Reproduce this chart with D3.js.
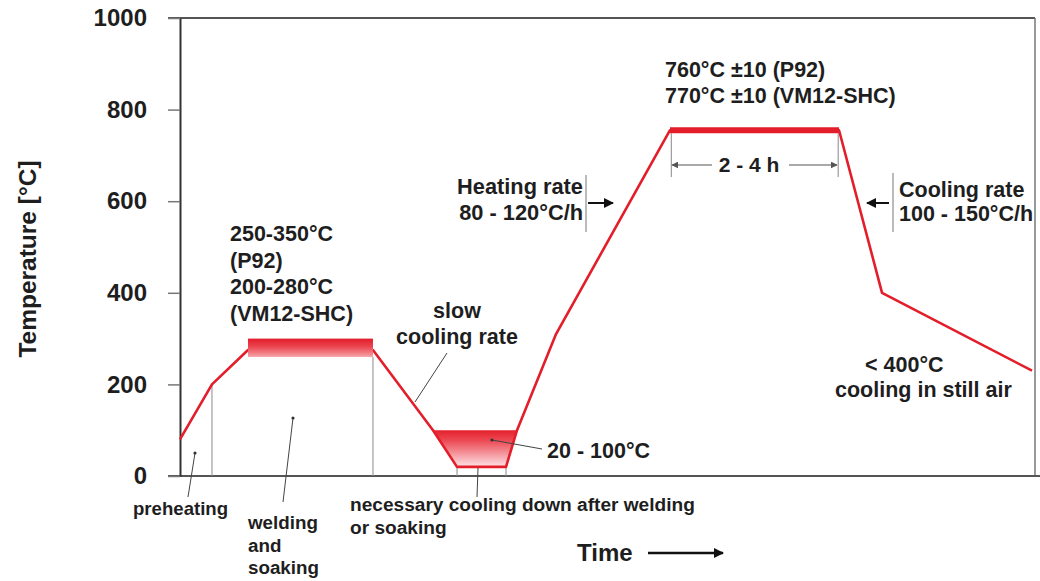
<!DOCTYPE html>
<html>
<head>
<meta charset="utf-8">
<script src="https://cdn.jsdelivr.net/npm/d3@7"></script>
<style>
  html, body { margin: 0; padding: 0; background: #fff; }
  svg text { font-family: "Liberation Sans", Arial, Helvetica, sans-serif; font-weight: bold; fill: #1e1e1e; }
</style>
</head>
<body>
<script>
// Post-weld heat treatment cycle: temperature against (relative) time
const profileTime = [0, 3.74, 7.95, 22.57, 29.59, 32.40, 38.13, 39.42, 43.98, 57.31, 77.08, 82.11, 99.65];
const profileTemp = [80, 200, 275, 275, 100, 20, 20, 100, 310, 755, 755, 400, 230];

// welding / soaking window
const weldBandTime = [7.95, 22.57];
const weldBandTemp = [260, 300];

// cooling-down window after welding (trapezoid corners)
const coolTime = [29.59, 39.42, 38.13, 32.40];
const coolTemp = [100, 100, 20, 20];

// tempering hold
const holdTime = [57.31, 77.08];
const holdTemp = 755;

const tempTicks = [0, 200, 400, 600, 800, 1000];

const W = 1040, H = 581;
const x = d3.scaleLinear().domain([0, 100]).range([180, 1035]);
const y = d3.scaleLinear().domain([0, 1000]).range([476, 18]);

const RED = "#e31e2a";
const GRID = "#8a8a8a";
const INK = "#1e1e1e";

const svg = d3.select("body").append("svg").attr("width", W).attr("height", H);
const defs = svg.append("defs");

const gBand = defs.append("linearGradient").attr("id", "bandGrad").attr("x1", 0).attr("x2", 0).attr("y1", 0).attr("y2", 1);
gBand.append("stop").attr("offset", "0%").attr("stop-color", "#e21c2a");
gBand.append("stop").attr("offset", "45%").attr("stop-color", "#eb4650");
gBand.append("stop").attr("offset", "100%").attr("stop-color", "#f7a3a9");

const gCool = defs.append("linearGradient").attr("id", "coolGrad").attr("x1", 0).attr("x2", 0).attr("y1", 0).attr("y2", 1);
gCool.append("stop").attr("offset", "0%").attr("stop-color", "#e4202c");
gCool.append("stop").attr("offset", "30%").attr("stop-color", "#ec4d57");
gCool.append("stop").attr("offset", "100%").attr("stop-color", "#fde3e6");

function marker(id, color, size) {
  defs.append("marker").attr("id", id)
    .attr("viewBox", "0 0 10 10").attr("refX", 9).attr("refY", 5)
    .attr("markerWidth", size).attr("markerHeight", size)
    .attr("markerUnits", "userSpaceOnUse")
    .attr("orient", "auto-start-reverse")
    .append("path").attr("d", "M0,0 L10,5 L0,10 Z").attr("fill", color);
}
marker("headBlack", "#111", 10);
marker("headGray", "#555", 7);

// frame
svg.append("line").attr("x1", 168).attr("x2", x(100)).attr("y1", y(1000)).attr("y2", y(1000))
  .attr("stroke", "#555").attr("stroke-width", 2);
svg.append("line").attr("x1", x(100)).attr("x2", x(100)).attr("y1", y(1000)).attr("y2", y(0))
  .attr("stroke", "#777").attr("stroke-width", 1.5);
svg.append("line").attr("x1", 168).attr("x2", W).attr("y1", y(0)).attr("y2", y(0))
  .attr("stroke", "#555").attr("stroke-width", 2);

// y axis
const yAxis = svg.append("g").attr("transform", `translate(${x(0)},0)`)
  .call(d3.axisLeft(y).tickValues(tempTicks).tickSize(12).tickSizeOuter(0).tickPadding(21).tickFormat(d3.format("d")));
yAxis.select(".domain").attr("stroke", "#333").attr("stroke-width", 2);
yAxis.selectAll(".tick line").attr("stroke", "#777").attr("stroke-width", 1.5);
yAxis.selectAll(".tick text").attr("font-size", 24).attr("fill", INK)
  .style("font-family", "'Liberation Sans', Arial, sans-serif").style("font-weight", "bold");

svg.append("text").attr("transform", "translate(36,259) rotate(-90)")
  .attr("text-anchor", "middle").attr("font-size", 24.5).text("Temperature [°C]");

// thin vertical guides under the profile
const guides = [[profileTime[1], profileTemp[1]], [weldBandTime[1], weldBandTemp[0]], [coolTime[3], coolTemp[3]], [coolTime[2], coolTemp[2]]];
svg.selectAll("line.guide").data(guides).join("line").attr("class", "guide")
  .attr("x1", d => x(d[0])).attr("x2", d => x(d[0]))
  .attr("y1", d => y(d[1])).attr("y2", y(0))
  .attr("stroke", GRID).attr("stroke-width", 1);

// cooling window fill
svg.append("polygon")
  .attr("points", coolTime.map((t, i) => [x(t), y(coolTemp[i])].join(",")).join(" "))
  .attr("fill", "url(#coolGrad)");

// temperature profile
const line = d3.line().x(d => x(d[0])).y(d => y(d[1]));
svg.append("path").datum(profileTime.map((t, i) => [t, profileTemp[i]]))
  .attr("d", line).attr("fill", "none").attr("stroke", RED).attr("stroke-width", 2.6)
  .attr("stroke-linejoin", "round");

// welding band
svg.append("rect")
  .attr("x", x(weldBandTime[0])).attr("width", x(weldBandTime[1]) - x(weldBandTime[0]))
  .attr("y", y(weldBandTemp[1])).attr("height", y(weldBandTemp[0]) - y(weldBandTemp[1]))
  .attr("fill", "url(#bandGrad)");

// tempering hold
svg.append("line").attr("x1", x(holdTime[0])).attr("x2", x(holdTime[1]))
  .attr("y1", y(holdTemp)).attr("y2", y(holdTemp))
  .attr("stroke", RED).attr("stroke-width", 6);

// hold duration dimension
const dimY = 165;
[holdTime[0] + 0.15, holdTime[1] - 0.1].forEach(t => {
  svg.append("line").attr("x1", x(t)).attr("x2", x(t)).attr("y1", y(holdTemp) + 3).attr("y2", 177)
    .attr("stroke", "#888").attr("stroke-width", 1);
});
svg.append("line").attr("x1", 712).attr("x2", x(holdTime[0]) + 2).attr("y1", dimY).attr("y2", dimY)
  .attr("stroke", "#555").attr("stroke-width", 1.2).attr("marker-end", "url(#headGray)");
svg.append("line").attr("x1", 789).attr("x2", x(holdTime[1]) - 2).attr("y1", dimY).attr("y2", dimY)
  .attr("stroke", "#555").attr("stroke-width", 1.2).attr("marker-end", "url(#headGray)");
svg.append("text").attr("x", 749).attr("y", 172).attr("text-anchor", "middle").attr("font-size", 21).text("2 - 4 h");

// text blocks
function block(lines, x0, y0, dy, size, anchor) {
  const t = svg.append("text").attr("font-size", size).attr("text-anchor", anchor || "start");
  lines.forEach((s, i) => t.append("tspan").attr("x", x0).attr("y", y0 + i * dy).text(s));
  return t;
}

block(["250-350°C", "(P92)", "200-280°C", "(VM12-SHC)"], 230, 241, 26.5, 21.5);
block(["slow", "cooling rate"], 457, 318, 25.5, 21.5, "middle");
block(["760°C ±10 (P92)", "770°C ±10 (VM12-SHC)"], 665, 77, 25.5, 21.5);
block(["Heating rate", "80 - 120°C/h"], 583, 194, 26, 21.8, "end");
block(["Cooling rate", "100 - 150°C/h"], 899, 197, 24, 21.5);
block(["< 400°C"], 865, 372, 0, 21.5);
block(["cooling in still air"], 835, 397, 0, 21.5);
block(["20 - 100°C"], 547, 458, 0, 21.5);

block(["preheating"], 133, 515, 0, 18.6);
block(["welding", "and", "soaking"], 248, 529, 22.5, 18.8);
block(["necessary cooling down after welding", "or soaking"], 350, 511, 23, 19.1);

// rate markers
svg.append("line").attr("x1", 586).attr("x2", 586).attr("y1", 175).attr("y2", 232).attr("stroke", "#777").attr("stroke-width", 1);
svg.append("line").attr("x1", 588).attr("x2", 613).attr("y1", 203).attr("y2", 203)
  .attr("stroke", "#111").attr("stroke-width", 2).attr("marker-end", "url(#headBlack)");
svg.append("line").attr("x1", 893).attr("x2", 893).attr("y1", 173).attr("y2", 232).attr("stroke", "#777").attr("stroke-width", 1);
svg.append("line").attr("x1", 889).attr("x2", 867).attr("y1", 203).attr("y2", 203)
  .attr("stroke", "#111").attr("stroke-width", 2).attr("marker-end", "url(#headBlack)");

// leader lines
const leaders = [
  [[195, 453], [188, 497]],
  [[293, 418], [283, 502]],
  [[478, 468], [477, 497]],
  [[492, 440], [542, 449]],
  [[415, 402], [447, 353]]
];
svg.selectAll("line.leader").data(leaders).join("line").attr("class", "leader")
  .attr("x1", d => d[0][0]).attr("y1", d => d[0][1]).attr("x2", d => d[1][0]).attr("y2", d => d[1][1])
  .attr("stroke", "#444").attr("stroke-width", 1);
svg.selectAll("circle.dot").data(leaders.slice(0, 2).concat([leaders[3]])).join("circle").attr("class", "dot")
  .attr("cx", d => d[0][0]).attr("cy", d => d[0][1]).attr("r", 1.6).attr("fill", "#333");

// time axis label
svg.append("text").attr("x", 577).attr("y", 561).attr("font-size", 24).text("Time");
svg.append("line").attr("x1", 648).attr("x2", 723).attr("y1", 553).attr("y2", 553)
  .attr("stroke", "#111").attr("stroke-width", 2.5).attr("marker-end", "url(#headBlack)");
</script>
</body>
</html>
